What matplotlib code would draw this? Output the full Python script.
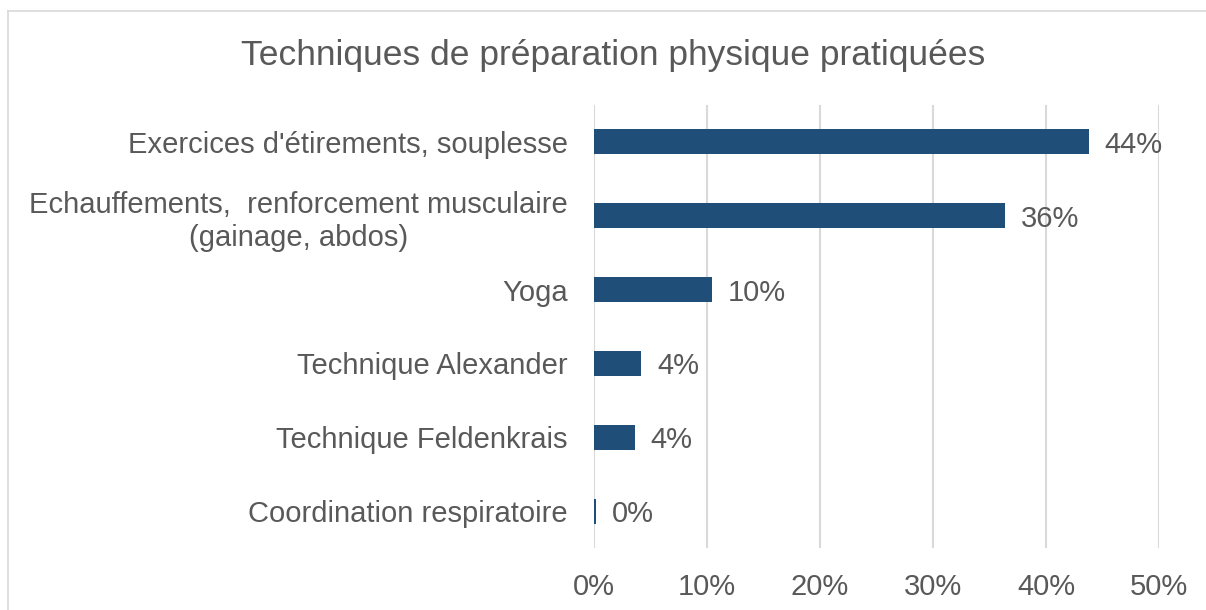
import matplotlib.pyplot as plt
from matplotlib.lines import Line2D
from matplotlib.ticker import FuncFormatter

categories = [
    "Exercices d'étirements, souplesse",
    "Echauffements,  renforcement musculaire\n(gainage, abdos)",
    "Yoga",
    "Technique Alexander",
    "Technique Feldenkrais",
    "Coordination respiratoire",
]
values = [43.8, 36.4, 10.4, 4.2, 3.6, 0.2]
value_labels = ["44%", "36%", "10%", "4%", "4%", "0%"]
xticks = [0, 10, 20, 30, 40, 50]

bar_color = "#1F4E79"
text_color = "#595959"
grid_color = "#D9D9D9"

plt.rcParams['font.family'] = ['Liberation Sans', 'DejaVu Sans']

fig = plt.figure(figsize=(12.06, 6.10), dpi=100)
ax = fig.add_axes([594 / 1206, 1 - 548 / 610, (1159 - 594) / 1206, (548 - 105) / 610])

y = list(range(len(categories)))
ax.barh(y, values, height=0.34, color=bar_color, zorder=3)
for yi, v, lab in zip(y, values, value_labels):
    ax.text(v + 1.4, yi + 0.04, lab, va="center", ha="left", fontsize=21, color=text_color)

ax.set_xlim(0, 50)
ax.set_ylim(len(categories) - 0.5, -0.5)
ax.set_yticks(y)
ax.set_yticklabels(categories, fontsize=21, color=text_color, multialignment="center",
                   linespacing=1.25)
ax.set_xticks(xticks)
ax.xaxis.set_major_formatter(FuncFormatter(lambda v, p: f"{v:.0f}%"))
ax.tick_params(axis="x", labelsize=21, labelcolor=text_color, length=0, pad=18)
ax.tick_params(axis="y", length=0, pad=19)
ax.grid(axis="x", color=grid_color, linewidth=1.5, zorder=0)
for s in ax.spines.values():
    s.set_visible(False)

fig.text(613 / 1206, 1 - 55 / 610, "Techniques de préparation physique pratiquées",
         ha="center", va="center", fontsize=25.5, color=text_color)

# outer chart border (top and left visible)
fig.add_artist(Line2D([7.5 / 1206, 1.01], [1 - 11 / 610, 1 - 11 / 610], color=grid_color, lw=1.2))
fig.add_artist(Line2D([7.5 / 1206, 7.5 / 1206], [-0.01, 1 - 11 / 610], color=grid_color, lw=1.2))

fig.savefig("out.png", dpi=100)
